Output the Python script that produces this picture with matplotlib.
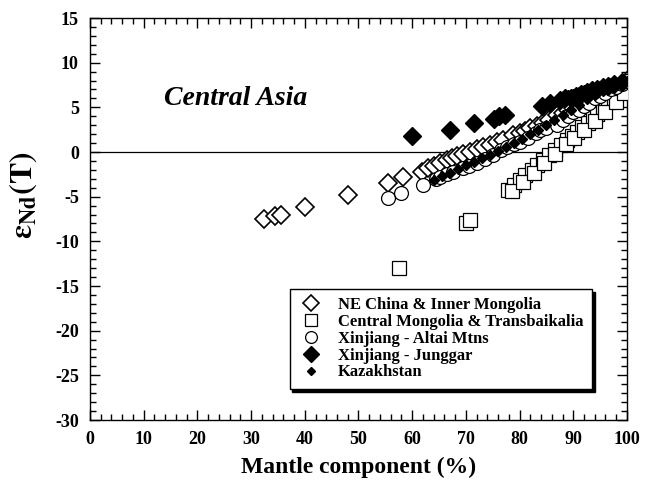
import matplotlib
matplotlib.use('Agg')
import matplotlib.pyplot as plt
from matplotlib.ticker import MultipleLocator

plt.rcParams['font.family'] = ['Liberation Serif', 'DejaVu Serif']
plt.rcParams['font.weight'] = 'bold'
plt.rcParams['mathtext.fontset'] = 'stix'
plt.rcParams['axes.unicode_minus'] = False

# NE China & Inner Mongolia (open diamonds)
ne_x = [32.5, 34.5, 35.5, 40, 48, 55.5, 58.3, 61.8, 63, 64, 65.2, 66.5, 67.5, 68.3, 69.5,
        70.8, 72, 73.2, 74.5, 75.8, 77, 78.8, 80, 81, 82, 83.2, 84.4, 85.5, 87, 88, 89,
        90, 91, 92, 93, 94, 95, 96, 97, 98, 99, 100]
ne_y = [-7.5, -7.2, -7.0, -6.2, -4.8, -3.5, -2.8, -2.2, -1.8, -1.6, -1.2, -0.9, -0.7, -0.5, -0.2,
        0.0, 0.3, 0.6, 0.8, 1.1, 1.4, 1.9, 2.1, 2.4, 2.7, 2.9, 3.2, 3.6, 4.1, 4.4, 4.7,
        4.9, 5.2, 5.5, 5.8, 6.1, 6.4, 6.7, 7.0, 7.3, 7.6, 7.9]

# Central Mongolia & Transbaikalia (open squares)
cm_x = [57.5, 70, 70.7, 77.8, 79, 80, 81, 82.3, 83.3, 84.4, 85.5, 86.6, 87.7, 88.8, 89.7,
        90.7, 91.7, 92.7, 93.6, 94.4, 95.5, 96.5, 97.6, 98.7, 100,
        78.6, 80.6, 82.6, 84.6, 86.6, 88.6, 90.2, 92, 94, 96, 98, 99.5]
cm_y = [-13.0, -8.0, -7.6, -4.2, -3.7, -3.1, -2.6, -2.0, -1.4, -0.9, -0.3, 0.2, 0.8, 1.3, 1.8,
        2.2, 2.8, 3.3, 3.8, 4.3, 5.0, 5.6, 6.1, 6.7, 7.7,
        -4.4, -3.4, -2.3, -1.2, -0.2, 0.9, 1.6, 2.5, 3.5, 4.5, 5.6, 6.6]

# Xinjiang - Altai Mtns (open circles)
alt_x = [55.5, 58, 62, 64.5, 65.2, 66.5, 67.6, 69.5, 70.5, 72, 73.5, 75, 76.5, 77.6, 79, 80,
         81.5, 83, 83.8, 85, 87, 88, 89, 90, 91, 92, 93, 94, 95, 96, 97, 98, 99, 100]
alt_y = [-5.2, -4.6, -3.7, -3.0, -2.8, -2.5, -2.2, -1.8, -1.6, -1.2, -0.8, -0.3, 0.2, 0.6, 0.9, 1.1,
         1.6, 2.1, 2.5, 2.7, 3.0, 3.6, 4.0, 4.5, 4.7, 5.2, 5.5, 6.0, 6.3, 6.6, 7.0, 7.3, 7.6, 8.0]

# Xinjiang - Junggar (large filled diamonds)
jg_x = [60, 67, 71.5, 75.3, 76.2, 77.3, 84.2, 85.7, 87.5, 88.5, 89.5, 90.5, 91.5, 92.5,
        93.5, 94.5, 95.5, 96.5, 97.5, 99]
jg_y = [1.8, 2.5, 3.2, 3.7, 4.0, 4.1, 5.2, 5.5, 5.8, 6.0, 6.1, 6.3, 6.5, 6.7,
        6.9, 7.1, 7.3, 7.4, 7.6, 7.8]

# Kazakhstan (small filled diamonds)
kz_x = [64, 65.5, 67, 68.5, 70, 71.5, 73, 74.5, 76, 77.5, 79, 80.5, 82, 83.5, 85, 86.5, 88,
        89.5, 91, 92.5, 94, 95.5, 97, 98.5, 100,
        88, 89, 90, 91, 92, 93, 94, 95, 96, 97]
kz_y = [-3.1, -2.7, -2.3, -1.9, -1.5, -1.1, -0.7, -0.3, 0.1, 0.6, 1.0, 1.5, 2.0, 2.5, 3.0, 3.6, 4.1,
        4.7, 5.3, 5.9, 6.4, 6.9, 7.3, 7.7, 8.0,
        6.2, 6.4, 6.5, 6.7, 6.9, 7.1, 7.2, 7.4, 7.5, 7.7]

fig = plt.figure(figsize=(6.45, 4.83), dpi=100)
ax = fig.add_axes([0.1395, 0.1304, 0.8325, 0.8323])

ax.axhline(0, color='black', lw=0.9, zorder=1)

ax.plot(ne_x, ne_y, 'D', ms=9.5, mfc='white', mec='black', mew=1.2, ls='none',
        label='NE China & Inner Mongolia', zorder=3)
ax.plot(cm_x, cm_y, 's', ms=10, mfc='white', mec='black', mew=0.9, ls='none',
        label='Central Mongolia & Transbaikalia', zorder=3)
ax.plot(alt_x, alt_y, 'o', ms=10, mfc='white', mec='black', mew=0.9, ls='none',
        label='Xinjiang - Altai Mtns', zorder=3)
ax.plot(jg_x, jg_y, 'D', ms=9, color='black', ls='none',
        label='Xinjiang - Junggar', zorder=4)
ax.plot(kz_x, kz_y, 'D', ms=5, color='black', ls='none',
        label='Kazakhstan', zorder=4)

ax.set_xlim(0, 100)
ax.set_ylim(-30, 15)
ax.xaxis.set_major_locator(MultipleLocator(10))
ax.xaxis.set_minor_locator(MultipleLocator(2))
ax.yaxis.set_major_locator(MultipleLocator(5))
ax.yaxis.set_minor_locator(MultipleLocator(1))
ax.tick_params(which='both', direction='in', top=True, right=True, width=1)
ax.tick_params(which='major', length=7, labelsize=13, pad=8)
ax.tick_params(which='minor', length=4)
for lab in ax.get_xticklabels() + ax.get_yticklabels():
    lab.set_fontweight('bold')
for sp in ax.spines.values():
    sp.set_linewidth(1.0)

ax.set_xlabel('Mantle component (%)', fontsize=17, fontweight='bold', labelpad=6)
ax.set_ylabel(r'$\mathbf{\varepsilon}_{\mathbf{Nd}}\mathbf{(T)}$', fontsize=23)
ax.yaxis.set_label_coords(-0.095, 0.56)

ax.text(13.8, 5.3, 'Central Asia', fontsize=20, fontweight='bold', style='italic')

leg = ax.legend(loc='lower right', bbox_to_anchor=(0.95, 0.057), fontsize=12,
                frameon=True, fancybox=False, shadow={'color': 'black', 'alpha': 1},
                edgecolor='black', handletextpad=0.8, borderpad=0.5, labelspacing=0.05,
                handlelength=1.6, markerscale=0.85)
leg.get_frame().set_linewidth(1.0)
for t in leg.get_texts():
    t.set_fontweight('bold')

fig.savefig('out.png', dpi=100)
